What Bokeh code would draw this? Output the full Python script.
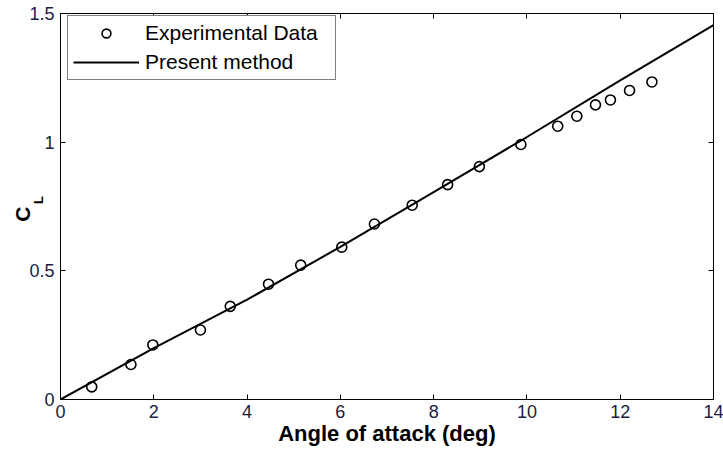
import math
from bokeh.plotting import figure
from bokeh.models import Range1d, LinearAxis, Label, Legend, LegendItem, FixedTicker, CustomJSTickFormatter
from bokeh.embed import file_html
from bokeh.resources import INLINE

# Experimental data
alpha_exp = [0.67, 1.51, 1.98, 3.00, 3.64, 4.46, 5.15, 6.03, 6.73, 7.54, 8.30,
             8.98, 9.87, 10.66, 11.07, 11.47, 11.79, 12.20, 12.68]
cl_exp = [0.049, 0.136, 0.212, 0.270, 0.362, 0.448, 0.522, 0.592, 0.682, 0.755,
          0.835, 0.905, 0.991, 1.062, 1.101, 1.145, 1.164, 1.201, 1.234]

# Present method
alpha_pm = [0, 2, 4, 6, 8, 10, 12, 14]
cl_pm = [0.0, 0.200, 0.388, 0.593, 0.806, 1.020, 1.240, 1.455]

x_ticks = [0, 2, 4, 6, 8, 10, 12, 14]
y_ticks = [0, 0.5, 1, 1.5]

FONT = "Liberation Sans"
TICK_COLOR = "#1c1c44"

p = figure(width=723, height=450, output_backend="svg", toolbar_location=None,
           x_range=Range1d(0, 14), y_range=Range1d(0, 1.5),
           min_border_left=60, min_border_right=10, min_border_top=13, min_border_bottom=51)
p.background_fill_color = "white"
p.border_fill_color = "white"
p.outline_line_color = "black"
p.outline_line_width = 1
p.xgrid.visible = False
p.ygrid.visible = False

for ax, ticks in ((p.xaxis[0], x_ticks), (p.yaxis[0], y_ticks)):
    ax.ticker = FixedTicker(ticks=ticks)
    ax.minor_tick_line_color = None
    ax.major_tick_in = 5
    ax.major_tick_out = 0
    ax.major_label_standoff = 6
    ax.axis_line_color = "black"
    ax.major_tick_line_color = "black"
    ax.major_label_text_font = FONT
    ax.major_label_text_font_size = "18px"
    ax.major_label_text_color = TICK_COLOR

p.xaxis.major_label_standoff = 5
p.xaxis.axis_label = "Angle of attack (deg)"
p.xaxis.axis_label_text_font = FONT
p.xaxis.axis_label_text_font_size = "22px"
p.xaxis.axis_label_text_font_style = "bold"
p.xaxis.axis_label_text_color = "black"
p.xaxis.axis_label_standoff = 0

# mirrored ticks on top and right
top = LinearAxis(ticker=FixedTicker(ticks=x_ticks), major_tick_in=5, major_tick_out=0,
                 minor_tick_line_color=None, major_label_text_font_size="0px",
                 major_label_standoff=0, axis_line_color="black")
right = LinearAxis(ticker=FixedTicker(ticks=y_ticks), major_tick_in=5, major_tick_out=0,
                   minor_tick_line_color=None, major_label_text_font_size="0px",
                   major_label_standoff=0, axis_line_color="black")
top.formatter = CustomJSTickFormatter(code="return ''")
right.formatter = CustomJSTickFormatter(code="return ''")
p.add_layout(top, "above")
p.add_layout(right, "right")

r_exp = p.scatter(alpha_exp, cl_exp, marker="circle", size=10, fill_color=None,
                  line_color="black", line_width=1.6)
r_pm = p.line(alpha_pm, cl_pm, line_color="black", line_width=2)

legend = Legend(items=[LegendItem(label="Experimental Data", renderers=[r_exp]),
                       LegendItem(label="Present method", renderers=[r_pm])],
                location=(7, 319), padding=5, spacing=5, glyph_width=66, glyph_height=22,
                label_height=22, label_width=185, label_standoff=6,
                label_text_font=FONT, label_text_font_size="21px", label_text_color="black",
                border_line_color="black", border_line_width=1, background_fill_color="white",
                background_fill_alpha=1.0, margin=0)
p.add_layout(legend)

# y-axis label C_L (C with subscript L), rotated; placed in side panels (not clipped)
p.add_layout(Label(x=-0.814, y=0.72, text="C",
                   angle=math.pi / 2, text_align="center", text_baseline="middle",
                   text_font=FONT, text_font_size="21px", text_font_style="bold",
                   text_color="black"), "left")
p.add_layout(Label(x=-0.47, y=0.775, text="L",
                   angle=math.pi / 2, text_align="center", text_baseline="middle",
                   text_font=FONT, text_font_size="13px", text_font_style="bold",
                   text_color="black"), "above")

open("out.html", "w").write(file_html(p, INLINE))
